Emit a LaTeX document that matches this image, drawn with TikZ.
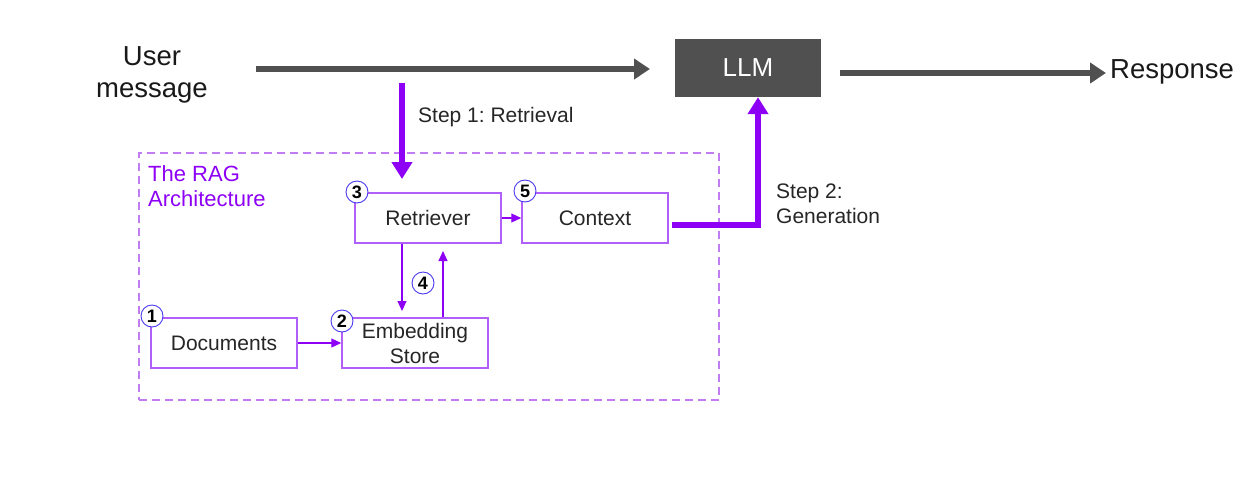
\documentclass[tikz,border=0pt]{standalone}
\usepackage{fontspec}
\setmainfont{Liberation Sans}
\usetikzlibrary{arrows.meta}
\frenchspacing
\definecolor{darkgray}{HTML}{505050}
\definecolor{vpurple}{HTML}{8E00F5}
\definecolor{boxpurple}{HTML}{B060F8}
\definecolor{dashpurple}{HTML}{C27CF2}
\definecolor{circblue}{HTML}{4A3AF0}
\tikzset{
  fs/.style 2 args={font=\fontsize{#1}{#2}\selectfont},
  rbox/.style={draw=boxpurple, line width=1.5pt, fill=white, minimum width=146pt, minimum height=50pt, inner sep=0pt, align=center, fs={21}{25}, text=black!85},
  num/.style={draw=circblue, line width=0.9pt, fill=white, circle, minimum size=22pt, inner sep=0pt, font=\fontsize{18}{20}\selectfont\bfseries},
  thinarr/.style={draw=vpurple, line width=1.1pt, -{Triangle[length=10pt,width=9pt]}},
  thickpurple/.style={draw=vpurple, line width=6pt, -{Triangle[length=17pt,width=20pt]}},
  grayarr/.style={draw=darkgray, line width=6pt, -{Triangle[length=16pt,width=20pt]}},
  lbl/.style={fs={21}{25}, text=black!85, align=left, inner sep=0pt},
}
\begin{document}
\begin{tikzpicture}[x=1pt,y=-1pt]
\useasboundingbox (0,0) rectangle (1258,480);
% dashed container
\node[draw=dashpurple, dash pattern=on 8pt off 5pt, line width=1.5pt, minimum width=580pt, minimum height=247pt, inner sep=0pt] (rag) at (429,276.5) {};
\node[anchor=north west, fs={22}{25}, text=vpurple, align=left, inner sep=0pt] (ragt) at (148,165) {The RAG\\Architecture};

% top row
\node[fs={27.5}{32}, align=center, inner sep=0pt, text=black!90] (user) at (152,75) {User\\message};
\node[fill=darkgray, minimum width=146pt, minimum height=58pt, inner sep=0pt, text=white, fs={26}{30}] (llm) at (748,68) {LLM};
\node[anchor=west, fs={27.5}{30}, inner sep=0pt, text=black!90] (resp) at (1110,72) {Response};
\coordinate (ua) at (256,69);
\coordinate (ub) at (650,69);
\draw[grayarr] (ua) -- (ub);
\coordinate (la) at (840,73);
\coordinate (lb) at (1106,73);
\draw[grayarr] (la) -- (lb);

% boxes
\node[rbox] (ret) at (428,218) {Retriever};
\node[rbox] (ctx) at (595,218) {Context};
\node[rbox] (doc) at (224,343) {Documents};
\node[rbox] (emb) at (415,343) {Embedding\\Store};

% step 1
\coordinate (s1a) at (402,83);
\coordinate (s1b) at (402,179);
\draw[thickpurple] (s1a) -- (s1b);
\node[lbl, anchor=west] (s1l) at (418,117) {Step 1: Retrieval};

% step 2
\coordinate (s2a) at (672,225);
\coordinate (s2c) at (758,225);
\draw[thickpurple] (s2a) -- (s2c) -- (s2c |- llm.south);
\node[lbl, anchor=north west] (s2l) at (776,184) {Step 2:\\Generation};

% thin arrows
\coordinate (d1) at (402,311);
\coordinate (u1) at (443,251);
\draw[thinarr] (d1 |- ret.south) -- (d1);
\draw[thinarr] (u1 |- emb.north) -- (u1);
\draw[thinarr] (ret.east) -- (ctx.west);
\draw[thinarr] (doc.east) -- (emb.west);

% numbers
\node[num] (n1) at (152,316) {1};
\node[num] (n2) at (342,321) {2};
\node[num] (n3) at (357,192) {3};
\node[num] (n4) at (423,283) {4};
\node[num] (n5) at (525,191) {5};
\end{tikzpicture}
\end{document}
